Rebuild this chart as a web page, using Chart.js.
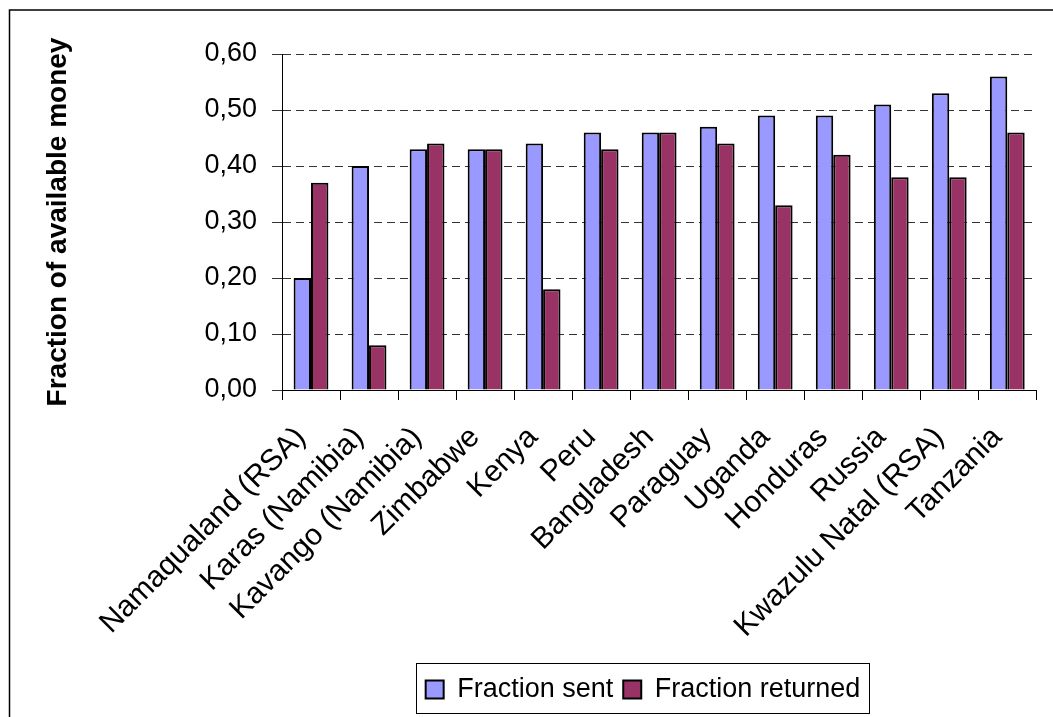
<!DOCTYPE html>
<html>
<head>
<meta charset="utf-8">
<script src="https://cdn.jsdelivr.net/npm/chart.js@4/dist/chart.umd.min.js"></script>
<style>
  html, body { margin: 0; padding: 0; background: #fff; }
  #wrap { width: 1053px; height: 717px; }
</style>
</head>
<body>
<div id="wrap"><canvas id="chart" width="1053" height="717"></canvas></div>
<script>
const countries = ['Namaqualand (RSA)', 'Karas (Namibia)', 'Kavango (Namibia)', 'Zimbabwe', 'Kenya', 'Peru',
  'Bangladesh', 'Paraguay', 'Uganda', 'Honduras', 'Russia', 'Kwazulu Natal (RSA)', 'Tanzania'];
const fractionSent = [0.20, 0.40, 0.43, 0.43, 0.44, 0.46, 0.46, 0.47, 0.49, 0.49, 0.51, 0.53, 0.56];
const fractionReturned = [0.37, 0.08, 0.44, 0.43, 0.18, 0.43, 0.46, 0.44, 0.33, 0.42, 0.38, 0.38, 0.46];
const yTitle = 'Fraction of available money';

const FONT = "'Liberation Sans', Arial, sans-serif";

// outer frame, y title and legend box (Excel look)
const decor = {
  id: 'decor',
  beforeDraw(chart) {
    const ctx = chart.ctx;
    ctx.save();
    ctx.fillStyle = '#fff';
    ctx.fillRect(0, 0, chart.width, chart.height);
    ctx.restore();
  },
  afterLayout(chart) {
    const lg = chart.legend;
    const d = 643 - (lg.left + lg.right) / 2;
    lg.left += d;
    lg.right += d;
  },
  afterDraw(chart) {
    const ctx = chart.ctx;
    const area = chart.chartArea;
    ctx.save();
    ctx.strokeStyle = '#000';
    ctx.lineWidth = 1.5;
    ctx.strokeRect(9.5, 10, 1200, 900);

    // legend frame
    const boxes = chart.legend.legendHitBoxes;
    if (boxes && boxes.length) {
      const first = boxes[0], last = boxes[boxes.length - 1];
      const x1 = Math.round(first.left - 10) + 0.5;
      const x2 = Math.round(last.left + last.width + 9) + 0.5;
      ctx.lineWidth = 1;
      ctx.strokeStyle = '#000';
      ctx.strokeRect(x1, 663.5, x2 - x1, 50);
    }

    // y axis title, centred on the plot
    ctx.translate(66, (area.top + area.bottom) / 2);
    ctx.rotate(-Math.PI / 2);
    ctx.fillStyle = '#000';
    ctx.font = 'bold 28px ' + FONT;
    ctx.textAlign = 'center';
    ctx.textBaseline = 'alphabetic';
    ctx.fillText(yTitle, 0, 0);
    ctx.restore();
  }
};

new Chart(document.getElementById('chart'), {
  type: 'bar',
  data: {
    labels: countries,
    datasets: [
      {
        label: 'Fraction sent',
        data: fractionSent,
        backgroundColor: '#9999FF',
        borderColor: '#000',
        borderWidth: 2,
        categoryPercentage: 0.6,
        barPercentage: 1
      },
      {
        label: 'Fraction returned',
        data: fractionReturned,
        backgroundColor: '#993366',
        borderColor: '#000',
        borderWidth: 2,
        categoryPercentage: 0.6,
        barPercentage: 1
      }
    ]
  },
  options: {
    responsive: false,
    animation: false,
    layout: { padding: { left: 202, right: 7, top: 54, bottom: 4 } },
    plugins: {
      tooltip: { enabled: false },
      legend: {
        position: 'bottom',
        labels: {
          color: '#000',
          font: { family: FONT, size: 27 },
          boxWidth: 18,
          boxHeight: 18,
          padding: 10
        }
      }
    },
    scales: {
      x: {
        grid: { offset: true, drawOnChartArea: false, tickLength: 10, color: '#000' },
        border: { color: '#000', width: 1 },
        ticks: {
          color: '#000',
          font: { family: FONT, size: 30 },
          minRotation: 45,
          maxRotation: 45,
          autoSkip: false,
          padding: 20,
          labelOffset: -10
        },
        afterFit(scale) { scale.height = 276; }
      },
      y: {
        min: 0,
        max: 0.6,
        grid: { color: '#333', tickLength: 10, tickBorderDash: [] },
        border: { color: '#000', width: 1, dash: [8, 5] },
        ticks: {
          stepSize: 0.1,
          color: '#000',
          padding: 15,
          font: { family: FONT, size: 27 },
          callback: v => v.toFixed(2).replace('.', ',')
        },
        afterFit(scale) { scale.width = 80; }
      }
    }
  },
  plugins: [decor]
});
</script>
</body>
</html>
